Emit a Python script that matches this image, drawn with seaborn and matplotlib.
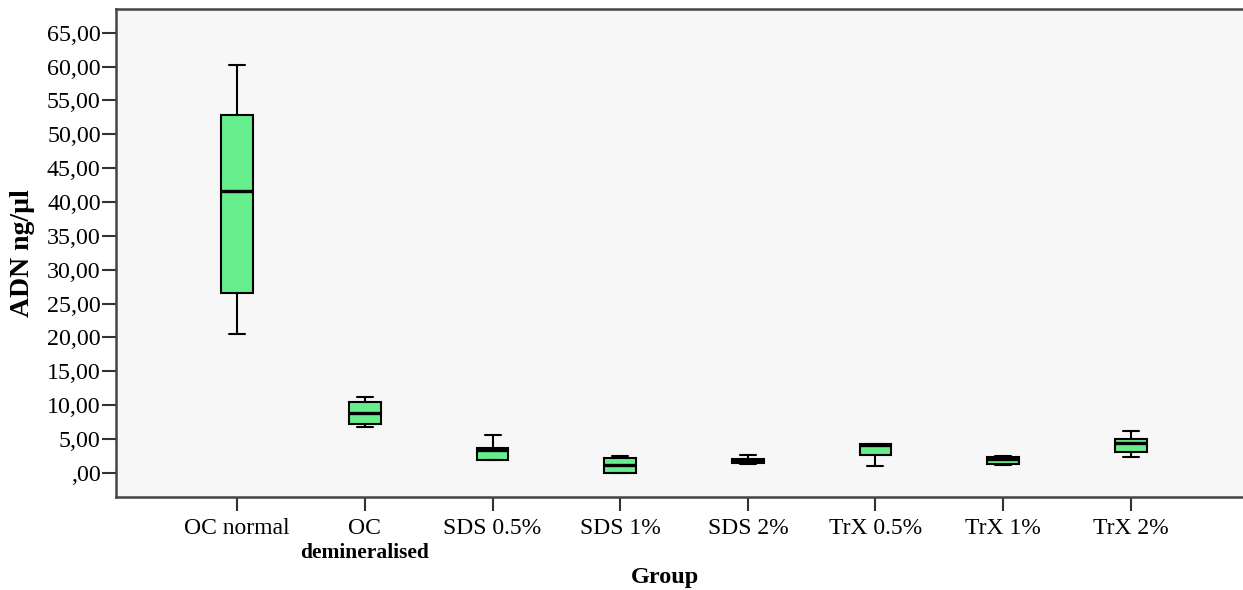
import matplotlib
matplotlib.use("Agg")
import matplotlib.pyplot as plt
import matplotlib.transforms as mtransforms
from matplotlib.ticker import FuncFormatter, MultipleLocator
import pandas as pd
import seaborn as sns

# Group names and five-number summaries (ng/µl)
groups = ["OC normal", "OC", "SDS 0.5%", "SDS 1%", "SDS 2%",
          "TrX 0.5%", "TrX 1%", "TrX 2%"]
whisker_low = [20.5, 6.85, 1.90, 0.00, 1.33, 1.03, 1.18, 2.30]
quartile_1 = [26.5, 7.20, 1.92, 0.05, 1.50, 2.66, 1.33, 3.05]
median = [41.6, 8.80, 3.35, 1.13, 1.90, 4.10, 2.00, 4.38]
quartile_3 = [52.8, 10.50, 3.69, 2.20, 2.10, 4.28, 2.30, 4.97]
whisker_high = [60.3, 11.20, 5.66, 2.46, 2.66, 4.28, 2.50, 6.25]

# Long-form table: five values per group reproduce the summary exactly
rows = []
for i, g in enumerate(groups):
    for v in (whisker_low[i], quartile_1[i], median[i], quartile_3[i], whisker_high[i]):
        rows.append({"Group": g, "ADN": v})
df = pd.DataFrame(rows)

sns.set_theme(style="white")
plt.rcParams["font.family"] = ["Liberation Serif", "DejaVu Serif"]
plt.rcParams.update({"text.color": "black", "axes.labelcolor": "black",
                     "xtick.color": "black", "ytick.color": "black"})

fig = plt.figure(figsize=(12.43, 5.90), dpi=100)
ax = fig.add_axes([116 / 1243, 1 - 497 / 590, (1252 - 116) / 1243, (497 - 9) / 590])
ax.set_facecolor("#F7F7F7")

sns.boxplot(
    data=df, x="Group", y="ADN", order=groups, ax=ax,
    whis=(0, 100), width=0.25, color="#66EE8C", saturation=1,
    linecolor="black", linewidth=1.5,
    medianprops={"linewidth": 2.4, "color": "black"},
    boxprops={"edgecolor": "black"},
)

ax.set_ylim(-3.55, 68.5)
ax.set_xlim(-0.95, 7.95)
ax.yaxis.set_major_locator(MultipleLocator(5))
ax.yaxis.set_major_formatter(
    FuncFormatter(lambda v, _: ",00" if abs(v) < 1e-9 else f"{v:.2f}".replace(".", ",")))

for side in ("left", "bottom", "top"):
    ax.spines[side].set_color("#444444")
    ax.spines[side].set_linewidth(1.8)
ax.spines["right"].set_visible(False)

ax.tick_params(axis="y", direction="out", length=10, width=1.5, color="#333333",
               labelcolor="black", labelsize=17.3, pad=1, left=True)
ax.tick_params(axis="x", direction="out", length=10, width=1.5, color="#333333",
               labelcolor="black", labelsize=17, pad=5, bottom=True)
ax.set_xticks(range(len(groups)))
ax.set_xticklabels(groups)

# Second line of the "OC" category label
ax.text(1, -0.115, "demineralised",
        transform=mtransforms.blended_transform_factory(ax.transData, ax.transAxes),
        ha="center", va="center", fontsize=15.5, fontweight="bold", color="black")

ax.set_xlabel("Group", fontsize=17.5, fontweight="bold", color="black")
ax.xaxis.set_label_coords((665 - 116) / (1252 - 116), -0.143)
ax.set_ylabel("ADN ng/µl", fontsize=20, fontweight="bold", color="black")
ax.yaxis.set_label_coords(-0.071, 0.5)

fig.savefig("out.png", dpi=100, facecolor="white")
